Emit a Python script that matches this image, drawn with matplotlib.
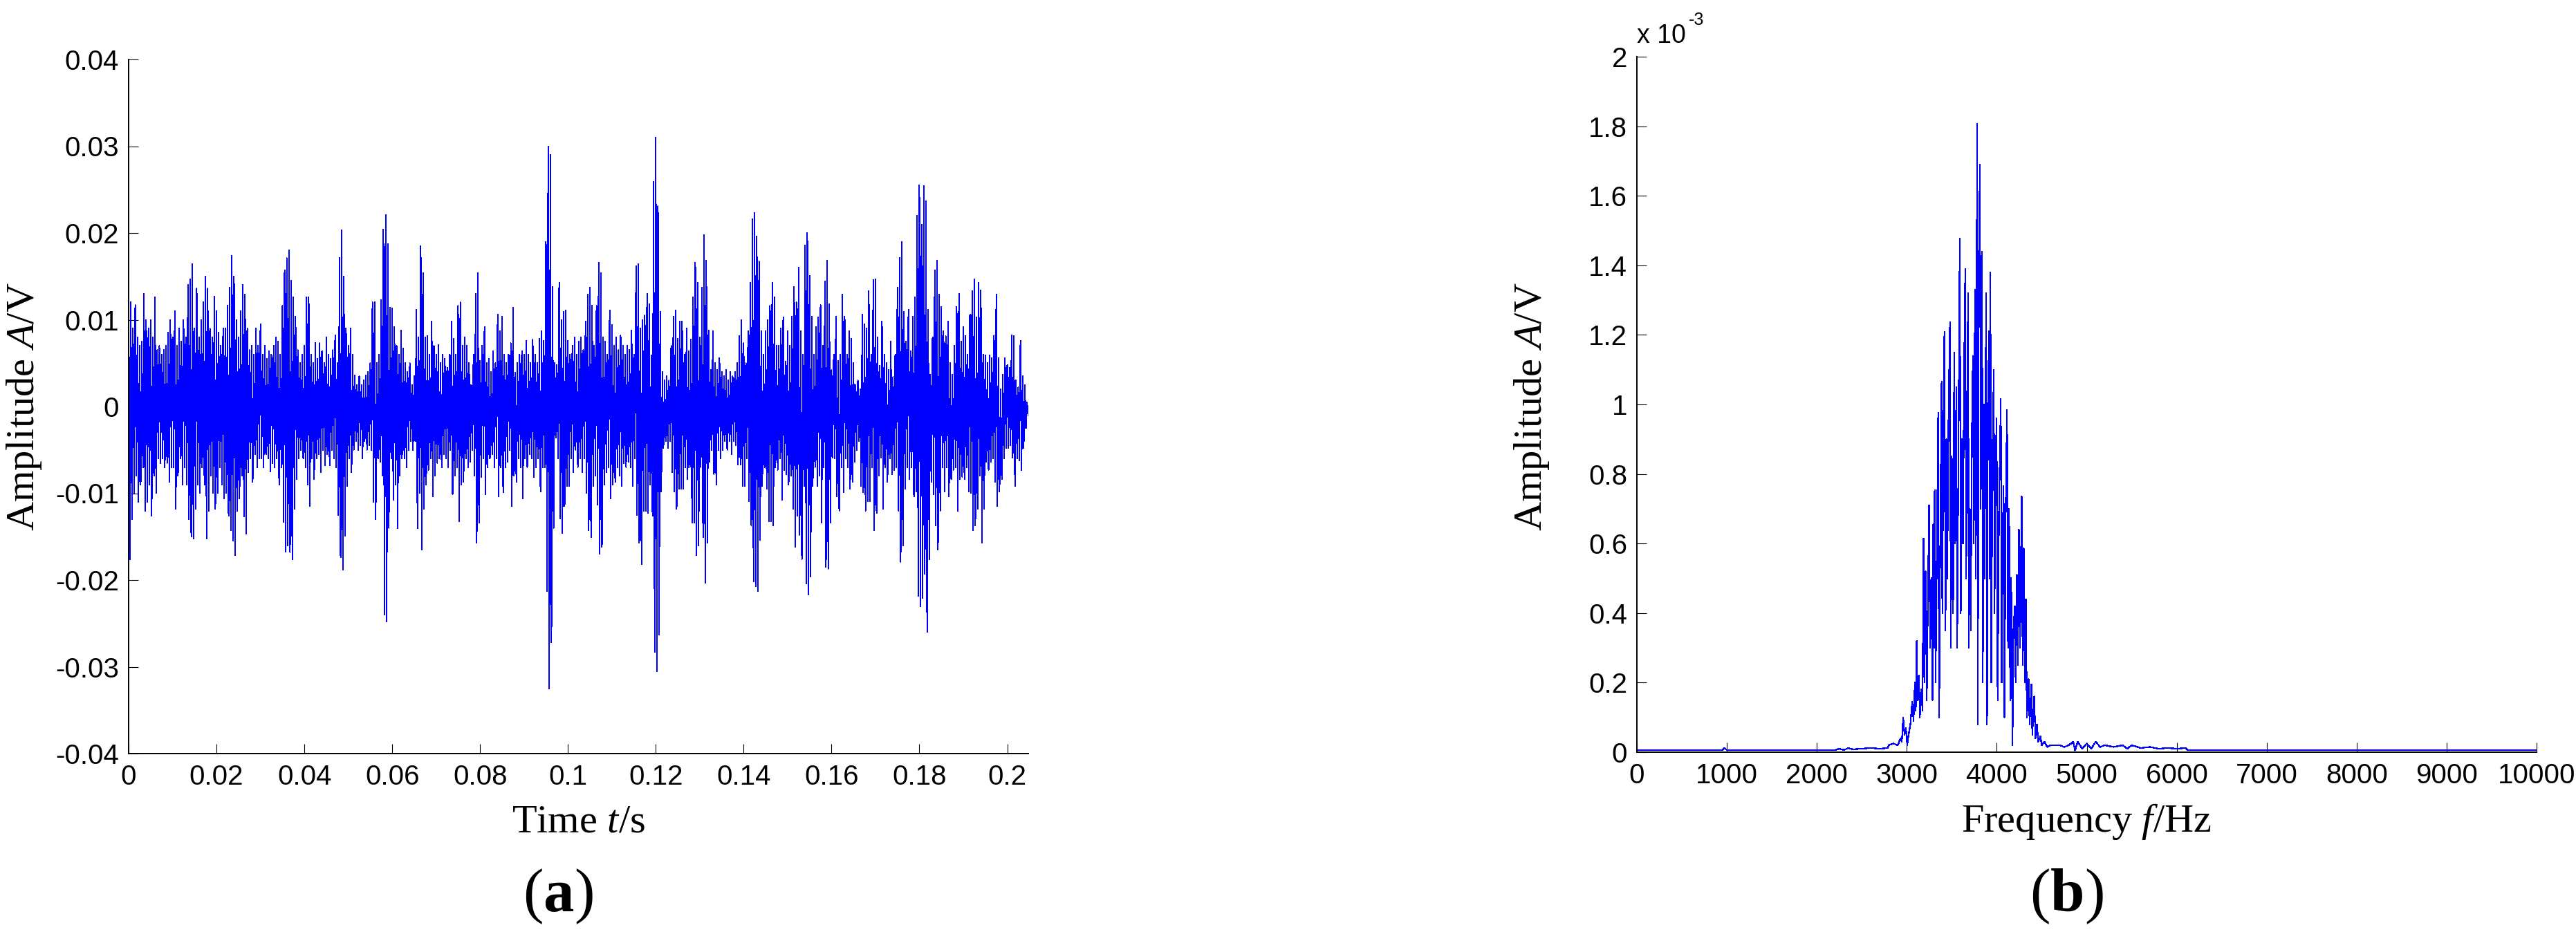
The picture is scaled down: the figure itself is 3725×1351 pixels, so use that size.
import numpy as np
import matplotlib
matplotlib.use('Agg')
import matplotlib.pyplot as plt

plt.rcParams['font.family'] = ['Liberation Sans', 'DejaVu Sans']
plt.rcParams['mathtext.fontset'] = 'custom'
plt.rcParams['mathtext.rm'] = 'Liberation Serif'
plt.rcParams['mathtext.it'] = 'Liberation Serif:italic'
plt.rcParams['mathtext.bf'] = 'Liberation Serif:bold'

# time signal, local maxima / minima every 0.5 ms, in mV
sig_hi = [
    16.5, 12, 9, 11.7, 8, 7, 7.5, 13, 10, 9, 10, 8, 12.6, 6.5, 7, 6, 6.5, 7, 8.5, 10,
    8, 11, 7, 9, 7.5, 10, 8, 14, 14.7, 16.4, 9, 13.6, 8, 10, 12, 15, 13.6, 9, 8, 12.7,
    11, 8.5, 7, 9, 9, 11.6, 13.7, 17.4, 15, 10, 8, 11, 14, 12.9, 9, 6.5, 7, 6, 9, 7,
    9.5, 6, 7, 5.5, 6.4, 6, 7, 8, 7.5, 6, 11.6, 15.7, 17.1, 18, 14.5, 12.6, 10.4, 6.5, 5, 6,
    7, 12.6, 12.6, 6, 5, 7.3, 5.5, 7.3, 6.4, 5, 8, 6, 5.5, 6.5, 8.2, 5, 17.1, 20.3, 15, 9,
    7, 9, 6, 3.6, 2.5, 3.5, 2.5, 3, 3.6, 4, 5, 12, 12, 5, 6, 12.3, 20.4, 22.1, 18.7, 11.4,
    11.3, 9.2, 7, 6, 8.8, 6.7, 5, 4, 5, 2.5, 3.5, 11.2, 8, 18.5, 15.4, 8, 8.1, 6, 9.8, 7,
    6, 7.1, 5, 6, 5.5, 4.5, 6, 9.8, 7.8, 6, 11.6, 12, 7, 8, 7, 5, 2.5, 6, 13, 15.4,
    5.3, 7, 9.2, 5, 5.5, 4, 6.4, 5, 10.6, 8.7, 10.4, 6, 5, 6, 7.3, 11.4, 3.9, 5, 6, 6.4,
    6, 7.6, 6, 5, 7.7, 6, 5, 7.8, 8.7, 7.6, 19, 30, 29, 13.8, 5, 4.8, 14.3, 10, 10.9, 11.1,
    7.6, 6, 7, 8, 6, 7.5, 8, 6.5, 9.8, 12.9, 13.7, 11.6, 7, 11.6, 16.6, 15.4, 8, 7.5, 6, 11.1,
    9.4, 7, 8, 6.5, 8.2, 7, 6, 7, 6.5, 8.8, 6, 16.2, 16.4, 9, 10, 10.5, 13, 11.8, 5.9, 25.9,
    31, 23.1, 10.9, 4, 3, 3.5, 3, 7, 10.4, 11.1, 7.8, 9.8, 9.8, 6, 9, 6.4, 7.7, 12.6, 16.6, 14.3,
    8, 13.7, 19.8, 16.8, 8.8, 4.2, 8.7, 5, 4.2, 5.6, 4, 3.5, 4.2, 3, 4, 3.5, 4, 5, 8.1, 10,
    7.3, 5, 8.7, 14.3, 21.6, 22.3, 19.6, 16.7, 8.7, 6, 8.7, 10, 11.6, 14.3, 12.6, 7, 7, 9, 10.3, 5.2,
    8.7, 7, 10.4, 13.8, 12, 16, 8.7, 6, 18.6, 20, 15.1, 10.4, 6, 9.2, 10.3, 11.7, 7, 14.4, 16.8, 11.8,
    4.2, 6, 10.4, 5.3, 6, 12.9, 10.4, 6, 8.7, 7.8, 5, 2.5, 3, 2, 10.6, 9.5, 9, 13.3, 6, 14.6,
    14.7, 8, 4.7, 9.8, 6, 5, 4.2, 7.5, 3.4, 6, 13.7, 17.1, 19, 10.9, 7.5, 11.2, 6.4, 10.4, 12.6, 22,
    25.5, 21, 25.4, 23.7, 11.2, 3.7, 8, 15.7, 16.8, 12.9, 11.5, 8.7, 8.1, 9.8, 5, 3.7, 7, 11.5, 13, 7.5,
    9.2, 8.1, 6, 10.6, 13.3, 14.7, 10.3, 14.3, 13.4, 6, 5.9, 5, 5.9, 5.6, 8.2, 12.9, 5.6, 2, 3.7, 5.6,
    4.8, 4.5, 8.2, 8.1, 3, 2.2, 7.6, 3.5, 2.5, 0.5,
]
sig_lo = [
    -17.6, -13, -10, -8, -11, -9, -7, -12, -11, -9, -12.6, -8, -10, -6, -6.5, -6, -7, -6.5, -8.7, -7,
    -7, -11.8, -8, -6, -9, -7, -9, -13, -15, -15.2, -11.8, -9, -10, -7, -9, -15.2, -12, -8, -10, -11.8,
    -10, -7, -9, -10.6, -10, -12.6, -14.3, -15.5, -17.1, -12, -10.6, -8, -12.7, -14.7, -7.6, -6, -8.7, -5.5, -7, -6,
    -6, -7, -5.5, -6, -7.5, -6.5, -7, -6, -9, -7, -13.3, -16.7, -16, -16.8, -17.6, -11.8, -8.4, -6, -5, -6,
    -7, -9, -11.5, -6, -8.4, -6, -5.5, -7.6, -5, -6.8, -5.5, -6.8, -5, -6, -7, -12.5, -17.4, -18.8, -14.9, -9.2,
    -6, -7.6, -5, -4, -5, -4.5, -6, -4, -5, -4.5, -5, -11, -13, -6, -6.4, -8, -24, -24.8, -14, -6,
    -10.8, -9, -14, -8, -6, -6, -7, -5, -4, -5, -4, -14, -10, -16.5, -11.8, -9, -7.3, -6, -10.4, -8,
    -6.5, -6, -7, -5.5, -6, -7, -5, -10.1, -8, -7, -13.2, -9, -8.7, -6, -7, -6.4, -5, -8, -15.7, -13.4,
    -8.1, -6, -10.1, -7, -6, -5.5, -7, -6, -10.4, -7, -9.9, -7, -6.4, -5, -11.5, -8, -8.7, -6, -7, -10.6,
    -6, -7, -5.5, -6, -8.1, -7, -6, -9.8, -7, -7, -21.3, -32.5, -27.2, -14, -3.6, -6, -12.9, -14.6, -11.5, -9.2,
    -9.2, -6, -7.6, -5, -7, -6, -7.6, -6, -10, -14.3, -15.1, -9.2, -8, -11.3, -17, -16.2, -9, -7.6, -7, -10.6,
    -9, -8.7, -7, -8, -9.2, -6.5, -7, -6.4, -7, -9.2, -6, -12.5, -15.7, -18.2, -12, -12, -12.3, -9, -12.6, -28.3,
    -30.5, -26.3, -9.8, -4.8, -4, -4.8, -4, -7.6, -9.8, -11.8, -9.5, -9.5, -9.5, -7, -8.4, -7, -13.4, -13.4, -17.1, -16,
    -7, -15.1, -20.3, -15.7, -6.4, -5, -7.8, -9, -5, -6, -5, -4, -5, -4, -5.5, -4, -4.5, -6.7, -6.7, -9.2,
    -9.2, -6, -10.9, -13.7, -20.2, -20.7, -21.3, -15.4, -9.2, -7, -9.5, -13.2, -13.2, -13.7, -7, -7.3, -6, -10.8, -7.3, -7.8,
    -9, -8, -11.8, -16.2, -12.6, -14.8, -17.6, -9.2, -20.4, -21.7, -19.6, -9.2, -7, -9.2, -8, -13.4, -7, -18.5, -18.7, -13.4,
    -5.9, -6, -10.4, -12, -7, -9.9, -6, -7, -9.5, -8.7, -6.4, -5, -4, -9.2, -9.9, -12, -10.9, -10.9, -7, -14.3,
    -12.3, -8, -5.9, -11.8, -7, -8.7, -6, -7.8, -7.3, -7, -12, -17.9, -16, -9.5, -7, -8.4, -7, -10.4, -9.8, -21.8,
    -23, -22.1, -19.3, -26, -17.6, -8.7, -10.1, -13.7, -16.5, -12, -7, -9.8, -7, -10.4, -8.4, -7.3, -7, -12, -8.4, -8.1,
    -8.4, -7, -9.8, -10, -14.3, -13.7, -11.8, -8, -15.7, -11.8, -6.4, -7.3, -6.4, -6, -8.7, -11.5, -9.8, -8.4, -6, -4.8,
    -4.8, -4.5, -5.9, -9.2, -6, -6.2, -7.3, -4.8, -2.5, -1,
]

# amplitude spectrum, Hz and x1e-3 V
spec_f = [0, 950, 975, 1000, 2200, 2250, 2300, 2350, 2400, 2500, 2600, 2700, 2790, 2800, 2850, 2900,
          2930, 2945, 2960, 2975, 2990, 3005, 3020, 3040, 3060, 3075, 3090, 3100, 3110, 3120, 3135, 3145,
          3160, 3175, 3186, 3195, 3210, 3222, 3235, 3248, 3260, 3275, 3285, 3294, 3302, 3310, 3320, 3335,
          3349, 3360, 3370, 3387, 3395, 3405, 3418, 3430, 3440, 3450, 3465, 3480, 3490, 3500, 3515, 3527,
          3538, 3550, 3560, 3572, 3589, 3600, 3612, 3625, 3637, 3650, 3660, 3670, 3681, 3690, 3700, 3712,
          3720, 3735, 3745, 3758, 3768, 3775, 3782, 3790, 3800, 3813, 3822, 3836, 3845, 3855, 3865, 3882,
          3892, 3900, 3913, 3921, 3929, 3940, 3950, 3967, 3975, 3985, 3998, 4010, 4025, 4045, 4055, 4065,
          4076, 4085, 4100, 4114, 4125, 4137, 4150, 4160, 4175, 4185, 4200, 4210, 4223, 4235, 4246, 4258,
          4277, 4288, 4300, 4312, 4323, 4335, 4354, 4365, 4385, 4395, 4416, 4430, 4447, 4460, 4486, 4500,
          4530, 4560, 4600, 4700, 4750, 4800, 4850, 4870, 4900, 4950, 5000, 5050, 5100, 5150, 5200, 5300,
          5400, 5450, 5500, 5600, 5700, 5800, 5900, 6000, 6100, 6120, 10000]
spec_a = [0.006, 0.006, 0.012, 0.006, 0.006, 0.01, 0.006, 0.012, 0.008, 0.01, 0.012, 0.01, 0.012, 0.02, 0.025, 0.02,
          0.04, 0.03, 0.1, 0.05, 0.07, 0.02, 0.05, 0.08, 0.145, 0.09, 0.2, 0.12, 0.32, 0.15, 0.22, 0.1,
          0.18, 0.12, 0.615, 0.2, 0.52, 0.15, 0.45, 0.71, 0.3, 0.5, 0.15, 0.655, 0.3, 0.754, 0.2, 0.6,
          0.977, 0.1, 0.55, 1.066, 0.4, 0.85, 1.208, 0.35, 0.9, 0.5, 1.0, 1.237, 0.3, 0.85, 0.4, 1.15,
          0.6, 1.05, 0.3, 0.8, 1.477, 0.4, 0.9, 0.6, 1.1, 1.39, 0.5, 0.9, 1.32, 0.3, 0.7, 0.35,
          0.85, 1.14, 0.6, 1.33, 0.5, 1.2, 1.808, 0.08, 1.4, 1.69, 0.7, 1.44, 0.2, 1.0, 0.5, 1.32,
          0.08, 0.9, 1.21, 0.5, 1.38, 0.2, 0.8, 1.10, 0.4, 0.8, 0.96, 0.15, 0.7, 1.015, 0.2, 0.6,
          0.766, 0.1, 0.7, 0.984, 0.3, 0.70, 0.15, 0.5, 0.02, 0.35, 0.42, 0.2, 0.51, 0.25, 0.64, 0.3,
          0.735, 0.25, 0.586, 0.2, 0.44, 0.1, 0.21, 0.08, 0.195, 0.05, 0.16, 0.04, 0.08, 0.03, 0.046, 0.02,
          0.03, 0.015, 0.02, 0.02, 0.015, 0.02, 0.03, 0.005, 0.03, 0.01, 0.025, 0.01, 0.03, 0.015, 0.02, 0.015,
          0.02, 0.01, 0.02, 0.012, 0.015, 0.01, 0.012, 0.01, 0.012, 0.006, 0.006]

t_ticks = [0, 0.02, 0.04, 0.06, 0.08, 0.1, 0.12, 0.14, 0.16, 0.18, 0.2]
t_labels = ['0', '0.02', '0.04', '0.06', '0.08', '0.1', '0.12', '0.14', '0.16', '0.18', '0.2']
a_ticks = [-0.04, -0.03, -0.02, -0.01, 0, 0.01, 0.02, 0.03, 0.04]
a_labels = ['-0.04', '-0.03', '-0.02', '-0.01', '0', '0.01', '0.02', '0.03', '0.04']
f_ticks = list(range(0, 10001, 1000))
s_ticks = [0, 0.2, 0.4, 0.6, 0.8, 1, 1.2, 1.4, 1.6, 1.8, 2]
s_labels = ['0', '0.2', '0.4', '0.6', '0.8', '1', '1.2', '1.4', '1.6', '1.8', '2']

W, H = 3725, 1351
fig = plt.figure(figsize=(W / 100, H / 100), dpi=100)
ax1 = fig.add_axes([186 / W, 1 - 1090 / H, 1301 / W, 1004 / H])
ax2 = fig.add_axes([2367 / W, 1 - 1088 / H, 1301 / W, 1006 / H])

t0 = np.arange(len(sig_hi)) * 0.5e-3
t = np.column_stack([t0, t0 + 0.25e-3]).ravel()
v = np.column_stack([sig_hi, sig_lo]).ravel() * 1e-3
ax1.plot(t, v, color='#0000ff', lw=0.72, antialiased=False)
ax1.set_xlim(0, 0.2048)
ax1.set_ylim(-0.04, 0.04)
ax1.set_xticks(t_ticks)
ax1.set_xticklabels(t_labels)
ax1.set_yticks(a_ticks)
ax1.set_yticklabels(a_labels)

ax2.plot(spec_f, spec_a, color='#0000ff', lw=0.9, antialiased=False)
ax2.set_xlim(0, 10000)
ax2.set_ylim(0, 2)
ax2.set_xticks(f_ticks)
ax2.set_xticklabels([str(f) for f in f_ticks])
ax2.set_yticks(s_ticks)
ax2.set_yticklabels(s_labels)

for ax in (ax1, ax2):
    ax.spines['top'].set_visible(False)
    ax.spines['right'].set_visible(False)
    for s in ('left', 'bottom'):
        ax.spines[s].set_linewidth(1.4)
    ax.tick_params(direction='in', length=10, width=0.8, labelsize=29, pad=11)
    ax.tick_params(axis='y', pad=10)

def px(x, y):
    return x / W, 1 - y / H

fig.text(*px(836, 1203), 'Time $t$/s', fontsize=42, ha='center', va='baseline', family='Liberation Serif')
fig.text(*px(3017, 1203), 'Frequency $f$/Hz', fontsize=42, ha='center', va='baseline', family='Liberation Serif')
fig.text(*px(35, 588), 'Amplitude $A$/V', fontsize=42, ha='center', va='center', rotation=90, family='Liberation Serif')
fig.text(*px(2215, 588), 'Amplitude $A$/V', fontsize=42, ha='center', va='center', rotation=90, family='Liberation Serif')
fig.text(*px(807, 1318), r'($\mathbf{a}$)', fontsize=64, ha='center', va='baseline', family='Liberation Serif')
fig.text(*px(2988, 1318), r'($\mathbf{b}$)', fontsize=64, ha='center', va='baseline', family='Liberation Serif')
fig.text(*px(2367, 62), 'x 10', fontsize=27, ha='left', va='baseline')
fig.text(*px(2442, 36), '-3', fontsize=18, ha='left', va='baseline')

fig.savefig('out.png', dpi=100)
